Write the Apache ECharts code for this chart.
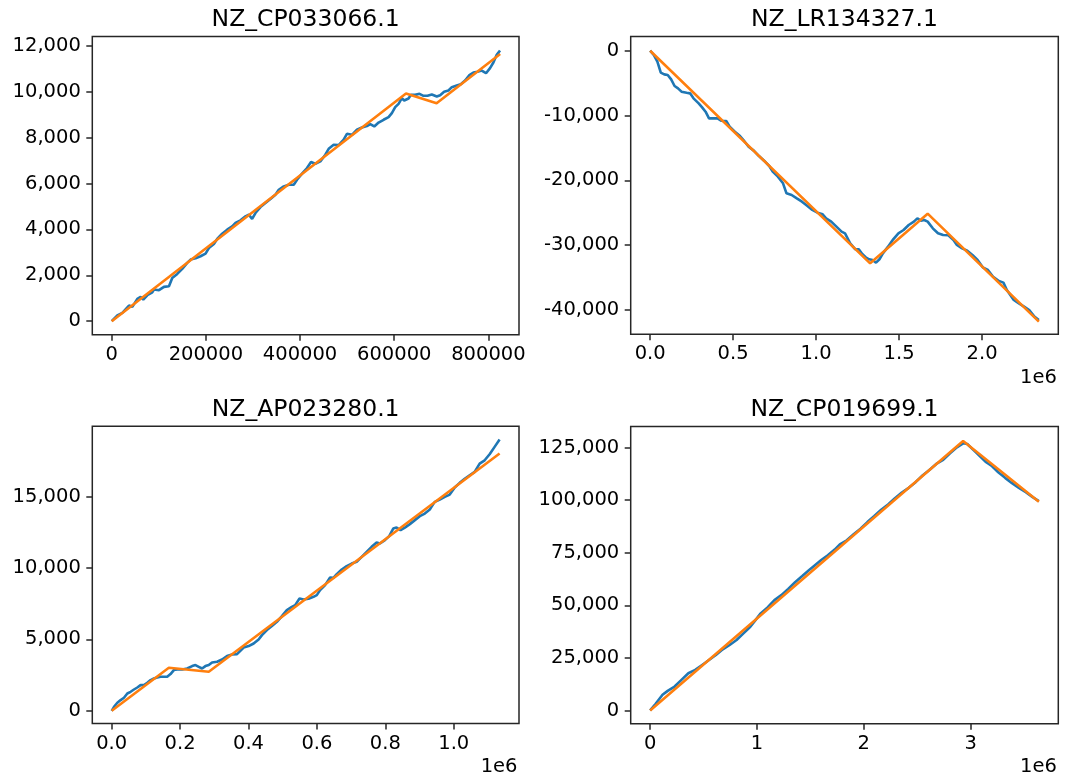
<!DOCTYPE html>
<html>
<head>
<meta charset="utf-8">
<title>Cumulative GC skew</title>
<script src="https://cdn.jsdelivr.net/npm/echarts@6/dist/echarts.min.js"></script>
<style>
  html, body { margin: 0; padding: 0; background: #fff; }
  #chart { width: 1073px; height: 777px; }
</style>
</head>
<body>
<div id="chart"></div>
<script>
// Replicon names, one per panel
const panelTitles = ['NZ_CP033066.1', 'NZ_LR134327.1', 'NZ_AP023280.1', 'NZ_CP019699.1'];

// Cumulative skew [position, value] and fitted piecewise-linear model, per replicon
const skewCP033066 = [[0,0],[12000,250],[22600,360],[36700,680],[43800,625],[54400,970],[61500,1060],[67100,945],[75600,1130],[86200,1260],[89700,1380],[100400,1350],[111000,1495],[121600,1525],[128600,1885],[139200,2060],[149800,2280],[160400,2540],[167500,2685],[178100,2740],[188700,2830],[199300,2945],[206400,3190],[217000,3365],[224000,3585],[234600,3815],[245200,3990],[255800,4135],[262900,4280],[273500,4395],[284100,4570],[291200,4645],[298200,4455],[305300,4715],[315900,4975],[326500,5150],[337100,5325],[347700,5515],[354800,5730],[365400,5875],[376000,5950],[386600,5950],[393600,6165],[404200,6430],[414800,6675],[423300,6935],[432500,6865],[443100,6965],[453700,7255],[460800,7515],[471400,7690],[482000,7675],[492600,7910],[499600,8170],[510200,8125],[520800,8345],[531400,8445],[542000,8505],[549100,8590],[557600,8490],[566800,8660],[577400,8780],[588000,8895],[595000,9070],[602100,9330],[609200,9475],[616200,9720],[621200,9620],[625400,9560],[630400,9705],[635300,9865],[644500,9865],[653700,9910],[662200,9825],[670700,9825],[679800,9880],[690400,9795],[697500,9850],[706000,10000],[715200,10055],[722300,10200],[732800,10275],[741300,10330],[750500,10490],[759700,10725],[768200,10840],[776700,10870],[785800,10925],[795000,10810],[803500,11030],[810600,11275],[817700,11610],[824700,11800]];
const fitCP033066 = [[0,0],[625000,9925],[690000,9500],[825000,11650]];

const skewLR134327 = [[0,0],[22800,-670],[43600,-1700],[64300,-3390],[85100,-3650],[105800,-3750],[126600,-4420],[147300,-5450],[168100,-5810],[188800,-6320],[219900,-6480],[240700,-6580],[261400,-7350],[292500,-8120],[313300,-8740],[334000,-9410],[354800,-10440],[375500,-10440],[406600,-10440],[427400,-10800],[458500,-10850],[479300,-11720],[510400,-12490],[541500,-13160],[562200,-13780],[593400,-14810],[624500,-15420],[655600,-16250],[686700,-16970],[717800,-17790],[738600,-18660],[769700,-19430],[800800,-20460],[821600,-22000],[852700,-22260],[883800,-22780],[914900,-23290],[946000,-23910],[977200,-24570],[1008300,-24990],[1039400,-25240],[1060200,-25860],[1091300,-26370],[1122400,-27140],[1153500,-27920],[1174300,-28170],[1205400,-29720],[1236500,-30640],[1257300,-30640],[1278000,-31360],[1298800,-31870],[1319500,-32180],[1340300,-32290],[1361000,-32700],[1381800,-32180],[1402500,-31260],[1433600,-30230],[1464700,-29100],[1495900,-28170],[1527000,-27660],[1558100,-26890],[1589200,-26370],[1610000,-25860],[1630700,-26220],[1651500,-26120],[1672200,-26370],[1703300,-27400],[1734400,-28170],[1765500,-28430],[1796700,-28480],[1827800,-29200],[1848500,-29970],[1879700,-30490],[1910800,-30850],[1941900,-31510],[1973000,-32290],[2004100,-33420],[2035300,-33830],[2066400,-34860],[2097500,-35470],[2128600,-35780],[2149400,-36910],[2170100,-37680],[2190900,-38460],[2222000,-38970],[2253100,-39480],[2284200,-40000],[2315300,-41030],[2342300,-41540]];
const fitLR134327 = [[0,0],[1325700,-32800],[1672200,-25140],[2342300,-41800]];

const skewAP023280 = [[0,0],[6800,280],[16500,560],[26200,750],[35900,910],[45700,1210],[55400,1330],[65100,1490],[74800,1630],[84500,1800],[94300,1800],[104000,1960],[113700,2150],[123400,2260],[133100,2330],[142900,2380],[152600,2380],[162300,2380],[172000,2570],[181700,2850],[191400,2890],[206000,2890],[220600,2960],[235200,3130],[244900,3200],[254600,3080],[264300,2960],[274000,3130],[283800,3200],[293500,3380],[308100,3430],[322600,3590],[337200,3830],[351800,3940],[366400,3970],[376100,4200],[385800,4430],[400400,4530],[415000,4710],[429500,4990],[439300,5300],[453800,5650],[468400,5930],[483000,6230],[497600,6630],[512100,7050],[526700,7280],[536400,7400],[549100,7860],[560800,7790],[575300,7840],[589900,7980],[599600,8100],[609300,8450],[623900,8800],[638500,9330],[648200,9310],[657900,9570],[672500,9890],[687100,10130],[701600,10310],[716200,10430],[730800,10780],[745400,11130],[759900,11480],[774500,11780],[784200,11710],[798800,11950],[811400,12230],[823100,12760],[832800,12830],[844500,12650],[857100,12830],[871700,13070],[886300,13350],[900900,13630],[915400,13810],[930000,14090],[934900,14280],[944600,14630],[959200,14790],[973800,14980],[988300,15140],[1002900,15630],[1017500,15960],[1032100,16240],[1046600,16490],[1061200,16730],[1075800,17310],[1090400,17540],[1104900,17960],[1119500,18480],[1134100,18990]];
const fitAP023280 = [[0,0],[167100,3010],[283800,2730],[1134100,18010]];

const skewCP019699 = [[0,0],[51600,3160],[116000,7430],[164400,9320],[228800,11380],[293300,14540],[357700,17700],[422200,19280],[486600,21650],[551100,24020],[615500,26390],[680000,29080],[744400,31130],[808900,33500],[873300,36660],[937800,39820],[986100,42980],[1034500,46150],[1098900,48990],[1163400,52470],[1227800,54840],[1292300,57840],[1356800,61000],[1421200,63840],[1485700,66690],[1534000,68740],[1598500,71430],[1662900,73800],[1727400,76490],[1775700,79020],[1840200,80910],[1904600,83760],[1969100,86440],[2033500,89600],[2098000,92450],[2162400,95450],[2226900,97980],[2291300,100980],[2355800,103670],[2420300,105880],[2484700,108570],[2549200,111730],[2613600,114410],[2678100,117260],[2742500,119160],[2807000,122320],[2871400,125160],[2929400,127060],[2968100,126740],[3032500,123580],[3097000,120420],[3145300,118050],[3193700,116470],[3258100,113310],[3322600,110620],[3387100,108090],[3451500,105880],[3516000,103830],[3580400,101460],[3638400,99560]];
const fitCP019699 = [[0,0],[2929400,128160],[3638400,99240]];

// Tick positions per panel
const xTicksCP033066 = [0, 200000, 400000, 600000, 800000];
const yTicksCP033066 = [0, 2000, 4000, 6000, 8000, 10000, 12000];
const xTicksLR134327 = [0, 500000, 1000000, 1500000, 2000000];
const yTicksLR134327 = [0, -10000, -20000, -30000, -40000];
const xTicksAP023280 = [0, 200000, 400000, 600000, 800000, 1000000];
const yTicksAP023280 = [0, 5000, 10000, 15000];
const xTicksCP019699 = [0, 1000000, 2000000, 3000000];
const yTicksCP019699 = [0, 25000, 50000, 75000, 100000, 125000];
const xOffsetLabel = '1e6';

const FONT = 'DejaVu Sans';
const BLUE = '#1f77b4';
const ORANGE = '#ff7f0e';
const SPINE = '#262626';

const commaFmt = v => Math.round(v).toLocaleString('en-US');
const plainFmt = v => String(Math.round(v));
const mega1Fmt = v => (v / 1e6).toFixed(1);
const mega0Fmt = v => (v / 1e6).toFixed(0);

// Plot boxes in pixels
const boxes = [
  { left: 92.3, top: 36.5, width: 426.7, height: 298.2 },
  { left: 630.7, top: 36.5, width: 427.6, height: 297.8 },
  { left: 92.3, top: 426.3, width: 426.7, height: 297.2 },
  { left: 630.7, top: 426.5, width: 427.6, height: 297.2 }
];

const panels = [
  { skew: skewCP033066, fit: fitCP033066, xt: xTicksCP033066, yt: yTicksCP033066, xf: plainFmt, yf: commaFmt,
    xr: [-41200, 865000], yr: [-590, 12410] },
  { skew: skewLR134327, fit: fitLR134327, xt: xTicksLR134327, yt: yTicksLR134327, xf: mega1Fmt, yf: commaFmt,
    xr: [-117100, 2459400], yr: [-43750, 2190] },
  { skew: skewAP023280, fit: fitAP023280, xt: xTicksAP023280, yt: yTicksAP023280, xf: mega1Fmt, yf: commaFmt,
    xr: [-56700, 1190800], yr: [-890, 19920] },
  { skew: skewCP019699, fit: fitCP019699, xt: xTicksCP019699, yt: yTicksCP019699, xf: mega0Fmt, yf: commaFmt,
    xr: [-181900, 3820300], yr: [-6300, 135050] }
];

const tickStyle = { show: true, inside: false, length: 6, lineStyle: { color: SPINE, width: 1.5 } };
const labelText = { fontFamily: FONT, fontSize: 19.5, color: '#000' };

const grid = boxes.map(b => ({
  left: b.left, top: b.top, width: b.width, height: b.height,
  show: true, borderColor: SPINE, borderWidth: 1.5, backgroundColor: 'transparent'
}));

const xAxis = panels.map((p, i) => ({
  type: 'value', gridIndex: i, min: p.xr[0], max: p.xr[1],
  axisLine: { show: false, onZero: false },
  splitLine: { show: false },
  axisTick: Object.assign({ customValues: p.xt }, tickStyle),
  axisLabel: Object.assign({ customValues: p.xt, margin: 10, formatter: p.xf }, labelText)
}));

const yAxis = panels.map((p, i) => ({
  type: 'value', gridIndex: i, min: p.yr[0], max: p.yr[1],
  axisLine: { show: false, onZero: false },
  splitLine: { show: false },
  axisTick: Object.assign({ customValues: p.yt }, tickStyle),
  axisLabel: Object.assign({ customValues: p.yt, margin: 11.5, formatter: p.yf }, labelText)
}));

const series = [];
panels.forEach((p, i) => {
  series.push({
    type: 'line', xAxisIndex: i, yAxisIndex: i, data: p.skew,
    symbol: 'none', lineStyle: { color: BLUE, width: 2.6 }, z: 2
  });
  series.push({
    type: 'line', xAxisIndex: i, yAxisIndex: i, data: p.fit,
    symbol: 'none', lineStyle: { color: ORANGE, width: 2.6 }, z: 3
  });
});

// Panel titles and scale-offset notes
const titleY = [20.2, 20.2, 409.4, 409.4];
const graphic = boxes.map((b, i) => ({
  type: 'text', x: b.left + b.width / 2, y: titleY[i],
  style: { text: panelTitles[i], fontFamily: FONT, fontSize: 23.5, fill: '#000', align: 'center', verticalAlign: 'middle' }
}));
[[1, 378.3], [2, 766.6], [3, 766.6]].forEach(([i, y]) => {
  const b = boxes[i];
  graphic.push({
    type: 'text', x: b.left + b.width - 1.5, y: y,
    style: { text: xOffsetLabel, fontFamily: FONT, fontSize: 19.5, fill: '#000', align: 'right', verticalAlign: 'middle' }
  });
});

const chart = echarts.init(document.getElementById('chart'), null, { renderer: 'canvas' });
chart.setOption({
  animation: false,
  backgroundColor: '#fff',
  grid, xAxis, yAxis, series, graphic
});
</script>
</body>
</html>
